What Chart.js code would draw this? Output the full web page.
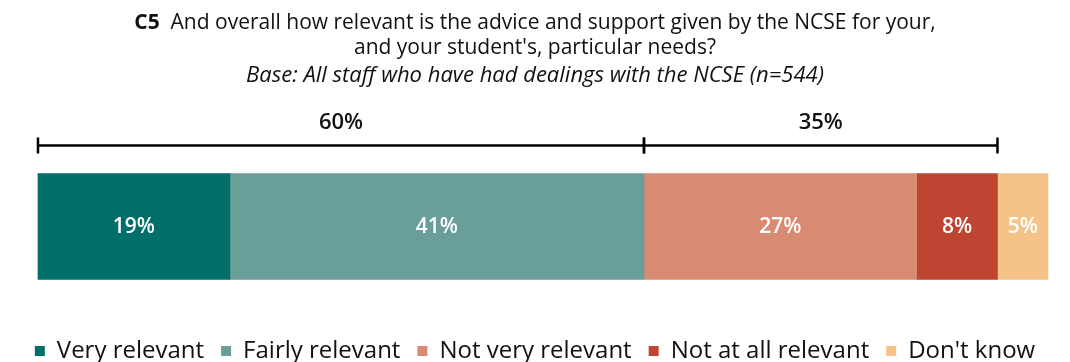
<!DOCTYPE html>
<html>
<head>
<meta charset="utf-8">
<script src="https://cdn.jsdelivr.net/npm/chart.js@4"></script>
<style>
  html, body { margin: 0; padding: 0; background: #fff; }
  #wrap { width: 1070px; height: 362px; }
</style>
</head>
<body>
<div id="wrap"><canvas id="chart"></canvas></div>
<script>
const categories = ["Very relevant", "Fairly relevant", "Not very relevant", "Not at all relevant", "Don't know"];
const values = [19, 41, 27, 8, 5];
const colors = ["#006e69", "#6a9e99", "#d98a72", "#be4532", "#f5c387"];
// nets shown as brackets over the bar: [first index, last index]
const nets = [[0, 1], [2, 3]];
const questionCode = "C5";
const questionLines = ["And overall how relevant is the advice and support given by the NCSE for your,", "and your student's, particular needs?"];
const baseText = "Base: All staff who have had dealings with the NCSE (n=544)";

const FONT = "'Open Sans', sans-serif";

const sumTo = n => values.slice(0, n).reduce((a, b) => a + b, 0);

// ---------- title block ----------
const titlePlugin = {
  id: "questionTitle",
  afterDraw(chart) {
    const ctx = chart.ctx, cx = chart.width / 2;
    ctx.save();
    ctx.fillStyle = "#111";
    ctx.textBaseline = "middle";
    ctx.textAlign = "left";
    // first line: bold code + question
    ctx.font = "bold 21px " + FONT;
    const codeW = ctx.measureText(questionCode + "  ").width;
    ctx.font = "21px " + FONT;
    const qW = ctx.measureText(questionLines[0]).width;
    let x = cx - (codeW + qW) / 2;
    ctx.font = "bold 21px " + FONT;
    ctx.fillText(questionCode, x, 23);
    ctx.font = "21px " + FONT;
    ctx.fillText(questionLines[0], x + codeW, 23);
    ctx.textAlign = "center";
    ctx.fillText(questionLines[1], cx, 48);
    ctx.font = "italic 22px " + FONT;
    ctx.fillText(baseText, cx, 76);
    ctx.restore();
  }
};

// ---------- % labels inside the segments ----------
const segLabels = {
  id: "segLabels",
  afterDatasetsDraw(chart) {
    const ctx = chart.ctx;
    ctx.save();
    ctx.fillStyle = "#fff";
    ctx.font = "600 21px " + FONT;
    ctx.textAlign = "center";
    ctx.textBaseline = "middle";
    chart.data.datasets.forEach((ds, i) => {
      const bar = chart.getDatasetMeta(i).data[0];
      const { x, base, y } = bar.getProps(["x", "base", "y"], true);
      ctx.fillText(ds.data[0] + "%", (x + base) / 2, y + 1);
    });
    ctx.restore();
  }
};

// ---------- net brackets ----------
const netBrackets = {
  id: "netBrackets",
  afterDatasetsDraw(chart) {
    const ctx = chart.ctx, xs = chart.scales.x;
    const bar = chart.getDatasetMeta(0).data[0];
    const top = bar.y - bar.height / 2;
    const ly = top - 28;
    ctx.save();
    ctx.strokeStyle = "#000";
    ctx.fillStyle = "#111";
    ctx.lineWidth = 2.5;
    ctx.font = "600 22px " + FONT;
    ctx.textAlign = "center";
    ctx.textBaseline = "middle";
    nets.forEach(([a, b]) => {
      const x0 = xs.getPixelForValue(sumTo(a));
      const x1 = xs.getPixelForValue(sumTo(b + 1));
      ctx.beginPath();
      ctx.moveTo(x0, ly); ctx.lineTo(x1, ly);
      ctx.moveTo(x0, ly - 8); ctx.lineTo(x0, ly + 8);
      ctx.moveTo(x1, ly - 8); ctx.lineTo(x1, ly + 8);
      ctx.stroke();
      const total = values.slice(a, b + 1).reduce((p, q) => p + q, 0);
      ctx.fillText(total + "%", (x0 + x1) / 2, ly - 23);
    });
    ctx.restore();
  }
};

new Chart(document.getElementById("chart"), {
  type: "bar",
  data: {
    labels: [""],
    datasets: categories.map((c, i) => ({
      label: c,
      data: [values[i]],
      backgroundColor: colors[i],
      borderWidth: 0,
      barThickness: 106
    }))
  },
  options: {
    indexAxis: "y",
    responsive: true,
    maintainAspectRatio: false,
    animation: false,
    devicePixelRatio: 1,
    layout: { padding: { top: 131, left: 0, right: 0, bottom: -11 } },
    scales: {
      // extended range leaves a margin either side of the 0-100 bar
      x: { stacked: true, min: -3.76, max: 102.18, display: false },
      y: { stacked: true, display: false }
    },
    plugins: {
      tooltip: { enabled: false },
      legend: {
        position: "bottom",
        labels: {
          boxWidth: 10,
          boxHeight: 10,
          padding: 17,
          color: "#111",
          font: { family: FONT, size: 24 }
        }
      }
    }
  },
  plugins: [titlePlugin, segLabels, netBrackets]
});
</script>
</body>
</html>
